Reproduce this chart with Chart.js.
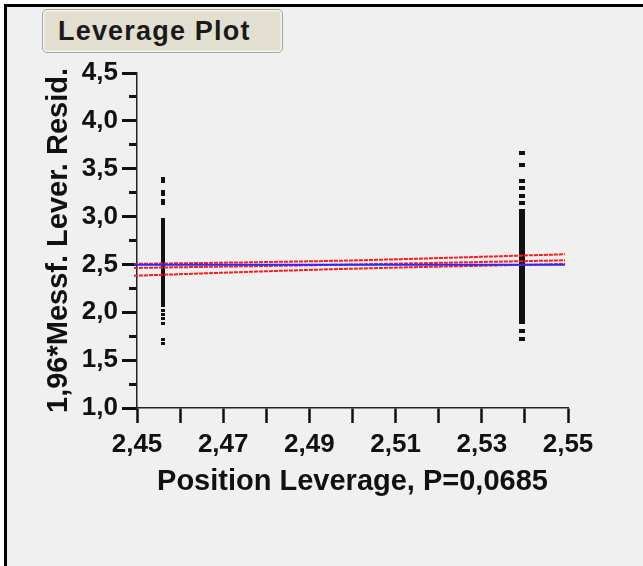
<!DOCTYPE html>
<html lang="de">
<head>
  <meta charset="UTF-8">
  <title>Leverage Plot</title>
  <style>
    body { margin: 0; background: #fff; }
    #frame { position: absolute; left: 4px; top: 4px; width: 660px; height: 580px; border-top: 3px solid #000; border-left: 3px solid #000; background: #f0f0f0; }
    #titleBox { position: absolute; left: 42px; top: 9px; width: 241px; height: 44px; box-sizing: border-box; border: 1.5px solid #a8a495; border-radius: 5px; background: #e2dfd1; box-shadow: inset 0 0 0 1.5px #f6f4ee; display: flex; align-items: center; padding-left: 15px; font-family: "Liberation Sans", Arial, sans-serif; font-weight: bold; font-size: 27px; letter-spacing: 1.2px; color: #1a1a1a; }
    #chartContainer { position: absolute; left: 0; top: 0; width: 643px; height: 566px; }
  </style>
</head>
<body>
  <div id="frame"></div>
  <div id="titleBox">Leverage Plot</div>
  <div id="chartContainer"><canvas id="leverageChart"></canvas></div>
  <script src="https://cdn.jsdelivr.net/npm/chart.js"></script>
  <script>
    // x position of the two groups
    const leftX = 2.456;
    const rightX = 2.5393;

    // leverage residuals for each group
    const leftY = [3.40, 3.37, 3.26, 3.23, 3.17, 3.14,
      2.97, 2.94, 2.91, 2.88, 2.85, 2.82, 2.79, 2.76, 2.73, 2.70, 2.67, 2.64, 2.61, 2.58, 2.55, 2.52,
      2.49, 2.46, 2.43, 2.40, 2.37, 2.34, 2.31, 2.28, 2.25, 2.22, 2.19, 2.16, 2.13, 2.10, 2.07,
      2.02, 1.98, 1.93, 1.88, 1.72, 1.67];
    const rightY = [3.66, 3.54, 3.37, 3.30, 3.21, 3.14, 3.06,
      3.02, 2.98, 2.94, 2.90, 2.86, 2.82, 2.78, 2.74, 2.70, 2.66, 2.62, 2.58, 2.54, 2.50, 2.46,
      2.42, 2.38, 2.34, 2.30, 2.26, 2.22, 2.18, 2.14, 2.10, 2.06, 2.02, 1.98, 1.94, 1.90,
      1.80, 1.72];

    // fit line, confidence curves and mean line
    const lineX = [2.4493, 2.4971, 2.5493];
    const fitY = [2.463, 2.497, 2.543];
    const upperY = [2.505, 2.539, 2.606];
    const lowerY = [2.382, 2.452, 2.505];
    const meanY = 2.497;

    const xTickValues = [2.45, 2.46, 2.47, 2.48, 2.49, 2.50, 2.51, 2.52, 2.53, 2.54, 2.55];
    const xTickLabels = [2.45, 2.47, 2.49, 2.51, 2.53, 2.55];

    function marker(w, h) {
      const c = document.createElement('canvas');
      c.width = w; c.height = h;
      const g = c.getContext('2d');
      g.fillStyle = '#111';
      g.fillRect(0, 0, w, h);
      return c;
    }

    function toPoints(xs, ys) {
      return ys.map((y, i) => ({ x: Array.isArray(xs) ? xs[i] : xs, y: y }));
    }

    function lineSet(ys, color, dash) {
      return {
        data: toPoints(lineX, ys), showLine: true, pointRadius: 0, borderColor: color, borderWidth: 2,
        borderDash: dash, cubicInterpolationMode: 'monotone', clip: false, order: 1
      };
    }

    const tickFont = { family: '"Liberation Sans", Arial, sans-serif', weight: 'bold', size: 26 };
    const titleFont = { family: '"Liberation Sans", Arial, sans-serif', weight: 'bold', size: 29 };

    new Chart(document.getElementById('leverageChart'), {
      type: 'scatter',
      data: {
        datasets: [
          { data: toPoints(leftX, leftY), pointStyle: marker(4, 3), pointRadius: 2, order: 2 },
          { data: toPoints(rightX, rightY), pointStyle: marker(6, 4), pointRadius: 3, order: 2 },
          { data: toPoints(lineX, lineX.map(() => meanY)), showLine: true, pointRadius: 0, borderColor: '#2a2aff', borderWidth: 2, clip: false, order: 1 },
          lineSet(fitY, '#ff1a1a', [4, 1]),
          lineSet(upperY, '#ff1a1a', [4, 1]),
          lineSet(lowerY, '#ff1a1a', [4, 1])
        ]
      },
      options: {
        responsive: true,
        maintainAspectRatio: false,
        animation: false,
        layout: { padding: { left: 0, top: 73, right: 75, bottom: 0 } },
        plugins: { legend: { display: false }, tooltip: { enabled: false } },
        scales: {
          x: {
            type: 'linear', min: 2.45, max: 2.55,
            afterFit: s => { s.height = 158; },
            afterBuildTicks: s => { s.ticks = xTickValues.map(v => ({ value: v })); },
            border: { display: true, color: '#222', width: 1.5, dash: [1.5, 1] },
            grid: { drawOnChartArea: false, drawTicks: true, tickLength: 15, tickWidth: 2.5, tickColor: '#111' },
            ticks: {
              autoSkip: false, maxRotation: 0, padding: 6, color: '#111', font: tickFont,
              callback: v => xTickLabels.some(t => Math.abs(t - v) < 1e-6) ? v.toFixed(2).replace('.', ',') : ''
            },
            title: { display: true, text: 'Position Leverage, P=0,0685', color: '#111', font: titleFont, padding: { top: 0, bottom: 67 } }
          },
          y: {
            type: 'linear', min: 1, max: 4.5, position: 'left', weight: 1,
            afterFit: s => { s.width = 137; },
            border: { display: true, color: '#222', width: 1.5, dash: [1.5, 1] },
            grid: { drawOnChartArea: false, drawTicks: true, tickLength: 15, tickWidth: 3, tickColor: '#111' },
            ticks: { stepSize: 0.5, padding: 4, color: '#111', font: tickFont, callback: v => v.toFixed(1).replace('.', ',') },
            title: { display: true, text: '1,96*Messf. Lever. Resid.', color: '#111', font: titleFont, padding: { top: 42, bottom: 0 } }
          },
          yMinor: {
            type: 'linear', min: 1, max: 4.5, position: 'left', weight: 0,
            afterFit: s => { s.width = 0; },
            border: { display: false },
            grid: { drawOnChartArea: false, drawTicks: true, tickLength: 8, tickWidth: 3, tickColor: '#111' },
            ticks: { stepSize: 0.25, display: false }
          }
        }
      }
    });
  </script>
</body>
</html>
